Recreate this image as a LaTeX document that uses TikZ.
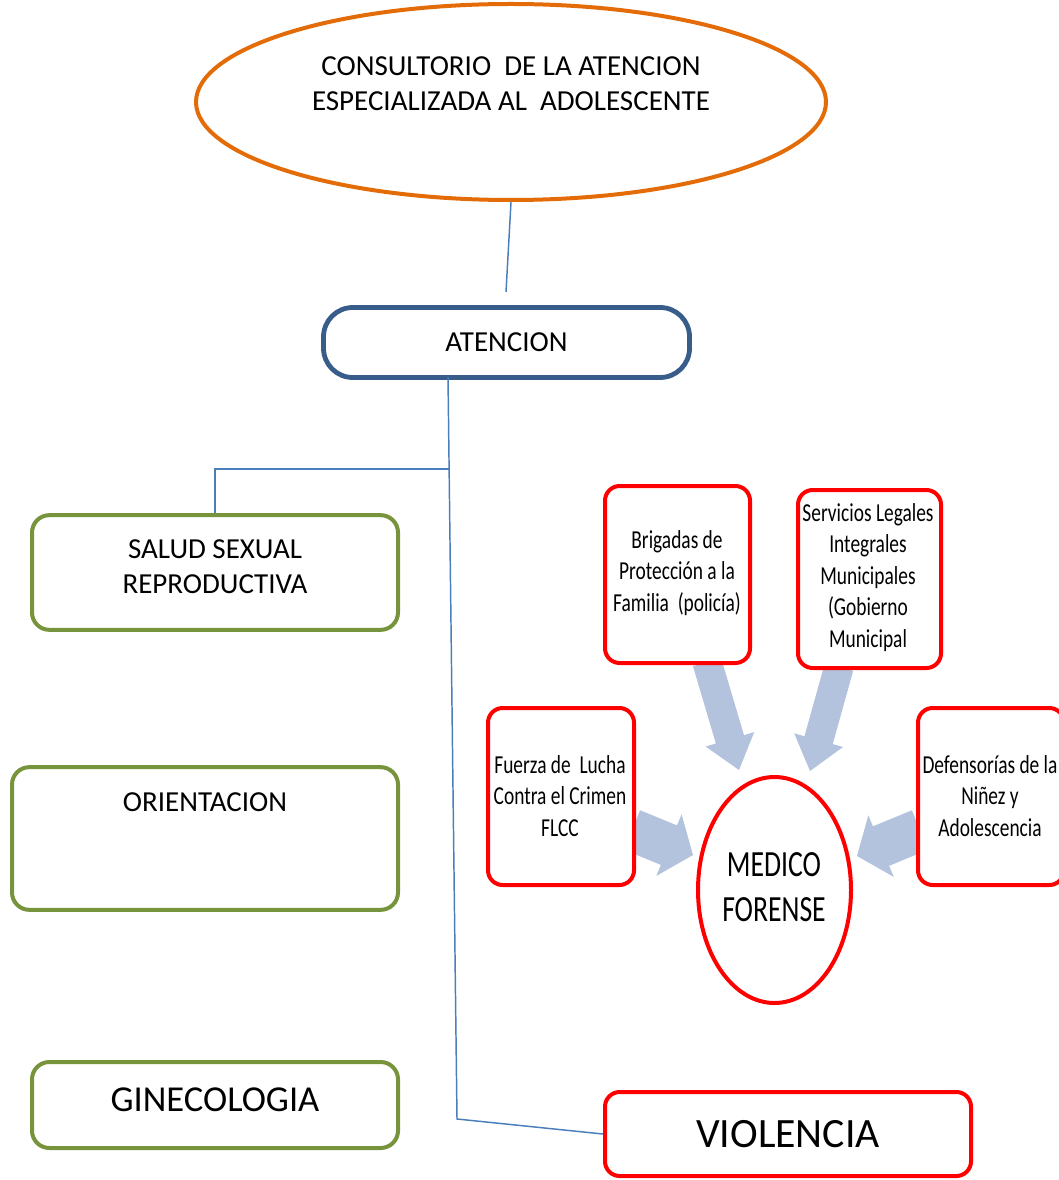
\documentclass[tikz,border=0pt]{standalone}
\usepackage{fontspec}
\setmainfont{Carlito}
\newfontfamily\cond[FakeStretch=0.75]{Carlito}
\usetikzlibrary{calc,backgrounds,shapes.geometric}
\definecolor{orangeL}{RGB}{227,108,9}
\definecolor{darkblueL}{RGB}{56,93,138}
\definecolor{greenL}{RGB}{119,147,60}
\definecolor{redL}{RGB}{255,0,0}
\definecolor{lineblue}{RGB}{74,126,187}
\definecolor{arrowfill}{RGB}{179,194,221}
\newcommand{\blockarr}[5]{%
  \coordinate (ba) at ($(#2)!#5!(#1)$);
  \fill[arrowfill] ($(#1)!#3!90:(#2)$) -- ($(ba)!#3!90:(#2)$) -- ($(ba)!#4!90:(#2)$) -- (#2)
    -- ($(ba)!#4!-90:(#2)$) -- ($(ba)!#3!-90:(#2)$) -- ($(#1)!#3!-90:(#2)$) -- cycle;}
\tikzset{
  normtxt/.style={font=\fontsize{21.75}{26.25}\selectfont, align=center},
  greenbox/.style={draw=greenL, line width=3pt, rounded corners=13pt, fill=white, inner sep=0pt, normtxt},
  redbox/.style={draw=redL, line width=3pt, rounded corners=11pt, fill=white, inner sep=0pt,
    font=\cond\fontsize{19.4}{23.6}\selectfont, align=center},
  conn/.style={draw=lineblue, line width=1.1pt}
}
\begin{document}
\begin{tikzpicture}[x=0.75pt,y=-0.75pt]
\useasboundingbox (0,0) rectangle (1058,1180);
% top ellipse
\node[ellipse, draw=orangeL, line width=3pt, fill=white, minimum width=472.5pt, minimum height=147pt, inner sep=0pt, normtxt] (cons) at (511,102) {};
\node[normtxt] (constxt) at (511,84) {CONSULTORIO\ \ DE LA ATENCION\\ESPECIALIZADA AL\ \ ADOLESCENTE};
% ATENCION
\node[draw=darkblueL, line width=3.6pt, rounded corners=22pt, fill=white, minimum width=274.5pt, minimum height=52.5pt, inner sep=0pt, normtxt] (aten) at (506.5,342.5) {ATENCION};
% green boxes
\node[greenbox, minimum width=274.5pt, minimum height=86pt] (salud) at (215,572.5) {};
\node[normtxt] (saludtxt) at (215,567) {SALUD SEXUAL\\REPRODUCTIVA};
\node[greenbox, minimum width=289.5pt, minimum height=107pt] (orient) at (205,838.5) {};
\node[normtxt] (orienttxt) at (205,802) {ORIENTACION};
\node[greenbox, minimum width=274.5pt, minimum height=64.5pt, font=\fontsize{27.4}{32}\selectfont] (gine) at (215,1105) {};
\node[font=\fontsize{27.4}{32}\selectfont] (ginetxt) at (215,1100) {GINECOLOGIA};
% VIOLENCIA
\node[draw=redL, line width=3pt, rounded corners=11pt, fill=white, minimum width=274.5pt, minimum height=63pt, inner sep=0pt, font=\fontsize{31.3}{36}\selectfont] (viol) at (788,1134) {VIOLENCIA};
% red small boxes
\node[redbox, minimum width=108.75pt, minimum height=132.75pt] (brig) at (677.5,574.5) {};
\node[font=\cond\fontsize{19.4}{23.6}\selectfont, align=center] (brigtxt) at (677,573) {Brigadas de\\Protección a la\\Familia\ \ (policía)};
\node[redbox, minimum width=107.25pt, minimum height=133.5pt] (serv) at (869.5,579) {};
\node[font=\cond\fontsize{19.4}{23.6}\selectfont, align=center] (servtxt) at (868,577.5) {Servicios Legales\\Integrales\\Municipales\\(Gobierno\\Municipal};
\node[redbox, minimum width=109.5pt, minimum height=132.75pt] (fuer) at (561,796.5) {};
\node[font=\cond\fontsize{19.4}{23.6}\selectfont, align=center] (fuertxt) at (560,796) {Fuerza de\ \ Lucha\\Contra el Crimen\\FLCC};
\node[redbox, minimum width=109.5pt, minimum height=132.75pt] (defe) at (991,796.5) {};
\node[font=\cond\fontsize{19.4}{23.6}\selectfont, align=center] (defetxt) at (990,796) {Defensorías de la\\Niñez y\\Adolescencia};
% MEDICO FORENSE
\node[ellipse, draw=redL, line width=3pt, fill=white, minimum width=114.75pt, minimum height=169.5pt, inner sep=0pt] (med) at (774.5,890) {};
\node[font=\cond\fontsize{27.7}{33.75}\selectfont, align=center] (medtxt) at (774,887) {MEDICO\\FORENSE};
% connectors
\coordinate (ce) at (506,292);
\draw[conn] (cons.south) -- (ce);
\coordinate (a1) at (448,377);
\coordinate (bend) at (457,1119);
\coordinate (j) at (449,469);
\draw[conn] (a1) -- (bend) -- (viol.west);
\draw[conn] (j) -| (salud.north);
% block arrows
\coordinate (brS) at (707,662);
\coordinate (brT) at (739,770);
\coordinate (seS) at (839,667);
\coordinate (seT) at (810,771);
\coordinate (fuS) at (632,830);
\coordinate (fuT) at (693,855);
\coordinate (deS) at (920,830);
\coordinate (deT) at (857,856);
\begin{pgfonlayer}{background}
\blockarr{brS}{brT}{11pt}{19pt}{24pt}
\blockarr{seS}{seT}{11pt}{19pt}{24pt}
\blockarr{fuS}{fuT}{16pt}{25pt}{19.5pt}
\blockarr{deS}{deT}{16pt}{25pt}{19.5pt}
\end{pgfonlayer}
\end{tikzpicture}
\end{document}
